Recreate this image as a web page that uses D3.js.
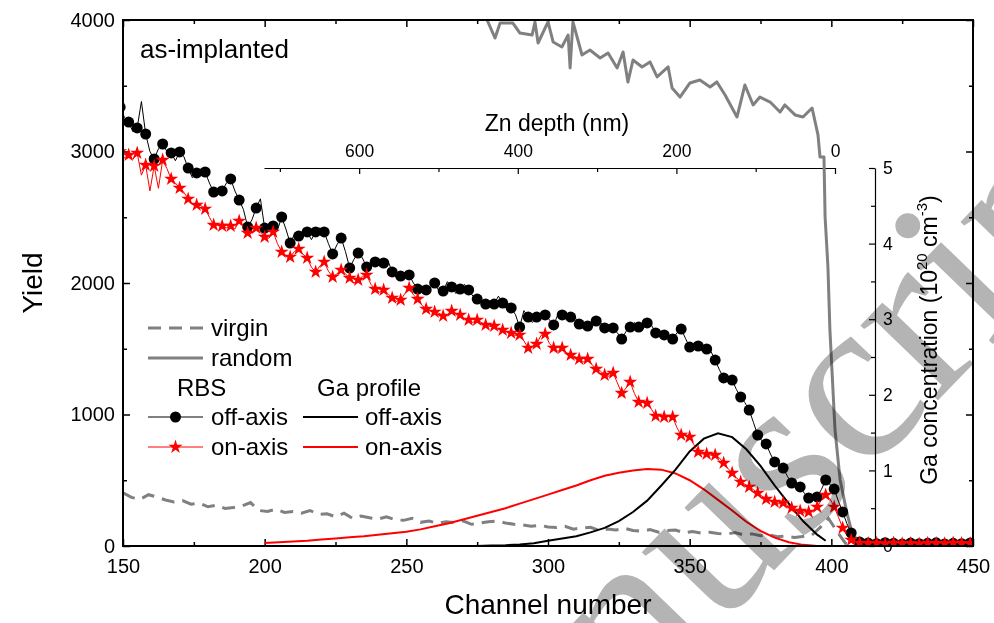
<!DOCTYPE html>
<html>
<head>
<meta charset="utf-8">
<script src="https://cdn.jsdelivr.net/npm/d3@7"></script>
<style>
  body { margin: 0; background: #fff; }
  text { font-family: "Liberation Sans", Arial, sans-serif; fill: #000; }
</style>
</head>
<body>
<svg id="chart" width="994" height="623"></svg>
<script>
// ---- data ----
// RBS off-axis: markers every 3 channels from 149, mids sit 1.5 channels after each marker
const offStart = 149
const offMarkers = [3338,3224,3179,3133,2943,3057,2989,2997,2874,2837,2844,2692,2700,2791,2631,2426,2570,2418,2434,2502,
  2304,2357,2388,2388,2388,2221,2342,2114,2228,2122,2160,2152,2084,2053,2061,1954,1947,2000,1939,1970,
  1954,1947,1878,1840,1840,1848,1810,1665,1741,1741,1757,1681,1757,1741,1688,1673,1711,1658,1658,1574,
  1665,1665,1696,1620,1605,1574,1650,1513,1521,1498,1414,1278,1262,1133,1034,844,776,639,593,479,
  449,365,373,502,433,259,99,30,22,18,25,20,15,22,18,20,24,16,20,18,22]
const offMids = [3260,3150,3380,3000,3020,3000,2930,2960,2800,2870,2760,2680,2760,2700,2560,2480,2640,2450,2400,2410,
  2370,2400,2330,2420,2300,2290,2240,2180,2190,2160,2130,2170,2040,2080,2000,1960,1980,1940,2010,1920,
  1990,1900,1870,1860,1900,1800,1760,1790,1700,1770,1720,1760,1720,1740,1650,1700,1700,1640,1620,1630,
  1700,1650,1680,1610,1600,1620,1580,1530,1480,1480,1340,1270,1190,1090,940,800,700,610,530,460,
  400,380,430,470,340,170,60]

// RBS on-axis
const onStart = 149
const onMarkers = [3000,2973,2989,2897,2890,2935,2791,2722,2639,2593,2563,2441,2434,2434,2472,2380,2418,2350,2388,2236,
  2198,2259,2190,2084,2160,2046,2099,2038,2023,2061,1954,1947,1886,1871,1962,1878,1802,1780,1749,1787,
  1757,1719,1719,1681,1673,1643,1620,1605,1506,1536,1612,1506,1506,1452,1422,1422,1346,1300,1316,1163,
  1247,1095,1087,989,981,981,844,829,715,700,692,631,555,487,449,403,357,335,327,289,
  266,259,297,388,297,137,46,23,20,22,16,24,18,20,15,22,20,18,24,20,18]
const onMids = [2950,2940,2820,2700,2720,2870,2760,2690,2600,2590,2500,2440,2420,2410,2430,2380,2390,2340,2300,2210,
  2240,2220,2120,2130,2090,2070,2070,2000,2050,1990,1930,1920,1860,1920,1910,1830,1790,1770,1760,1770,
  1730,1700,1700,1670,1650,1630,1600,1560,1520,1600,1540,1480,1470,1440,1400,1380,1330,1290,1240,1200,
  1160,1090,1040,990,990,900,850,770,700,690,670,590,520,470,430,380,350,320,310,280,
  250,270,350,360,220,80,30]

// virgin: every 3 channels from 150
const virginStart = 150
const virginValues = [405,370,355,390,372,350,335,345,318,325,298,310,285,292,305,330,270,262,280,255,
  262,250,270,240,245,222,250,210,228,215,205,222,200,195,210,180,190,172,185,178,
  192,165,175,185,190,175,165,160,150,158,145,140,150,128,138,142,120,130,122,135,
  118,112,125,105,118,122,100,110,98,105,95,90,102,85,92,78,85,70,75,65,
  72,80,140,210,110,20,10,5]

// random
const randomCh = [275,278.5,281.3,283.1,287.6,290.1,294.4,295.4,296.5,300,301.8,304.9,307.1,307.8,308.8,312,314.8,318.4,321.2,324.4,
  326.5,328.2,330,333.2,336,338.5,342.4,343.8,346.6,350.1,353.6,357.2,359.6,362.5,366.7,369.5,372.4,374.8,378.4,381.9,
  383.6,387.2,390,393.2,394.9,395.3,396,397.4,397.8,398.8,399.5,401.3,403.1,405.5,407.3,409.1,412,420,435,450]
const randomValues = [4150,4000,3863,3977,3977,3901,3886,3985,3825,3985,3833,3795,3886,3635,3985,3734,3772,3711,3749,3635,
  3757,3528,3696,3643,3681,3567,3643,3483,3414,3521,3544,3490,3529,3430,3262,3506,3354,3414,3376,3300,
  3354,3278,3262,3331,3164,3125,2958,2958,2502,2122,1643,882,502,251,99,46,25,22,18,20]

// Ga profiles (10^20 cm^-3)
const gaOffCh = [275,280,285,290,295,300,305,310,315,320,325,330,335,340,345,350,355,360,365,370,375,380,385,390,395,398]
const gaOffValues = [0,0.005,0.01,0.02,0.035,0.07,0.1,0.13,0.18,0.24,0.33,0.45,0.6,0.8,1.01,1.25,1.42,1.49,1.44,1.28,1.06,0.8,0.56,0.33,0.15,0.07]
const gaOnCh = [200,205,210,215,220,225,230,235,240,245,250,255,260,265,270,275,280,285,290,295,300,305,310,315,320,
  325,330,335,340,345,350,355,360,365,370,375,380,385,390,395,398]
const gaOnValues = [0.04,0.05,0.06,0.07,0.085,0.1,0.115,0.13,0.15,0.17,0.19,0.22,0.26,0.3,0.35,0.4,0.45,0.5,0.56,0.62,0.68,0.74,0.8,0.87,0.93,
  0.97,1,1.02,1.01,0.96,0.87,0.75,0.61,0.47,0.32,0.2,0.11,0.05,0.015,0,0]

// ticks
const xMajor = [150,200,250,300,350,400,450]
const xMinor = [175,225,275,325,375,425]
const yMajor = [0,1000,2000,3000,4000]
const yMinor = [500,1500,2500,3500]
const depthMajor = [600,400,200,0]
const depthMinor = [700,500,300,100]
const gaMajor = [0,1,2,3,4,5]
const gaMinor = [0.5,1.5,2.5,3.5,4.5]

// ---- chart ----
const svg = d3.select("#chart")
const margin = { top: 20, left: 123, right: 21, bottom: 77 }
const innerWidth = 994 - margin.left - margin.right
const innerHeight = 623 - margin.top - margin.bottom

const g = svg.append("g").attr("transform", `translate(${margin.left},${margin.top})`)

const x = d3.scaleLinear().domain([150, 450]).range([0, innerWidth])
const y = d3.scaleLinear().domain([0, 4000]).range([innerHeight, 0])
const depth = d3.scaleLinear().domain([720, 0]).range([141, 712])
const depthY = 148
const ga = d3.scaleLinear().domain([0, 5]).range([innerHeight, depthY])
const gaX = 752
const intFmt = d3.format("d")

svg.append("clipPath").attr("id", "clip")
  .append("rect").attr("width", innerWidth).attr("height", innerHeight)

// build point lists
function seriesPoints(start, markers, mids) {
  const pts = []
  markers.forEach((v, i) => {
    pts.push([start + 3 * i, v])
    if (i < mids.length) pts.push([start + 3 * i + 1.5, mids[i]])
  })
  return pts
}
const offPts = seriesPoints(offStart, offMarkers, offMids)
const onPts = seriesPoints(onStart, onMarkers, onMids)
const offMarkPts = offMarkers.map((v, i) => [offStart + 3 * i, v])
const onMarkPts = onMarkers.map((v, i) => [onStart + 3 * i, v])
const virginPts = virginValues.map((v, i) => [virginStart + 3 * i, v])
const randomPts = randomCh.map((c, i) => [c, randomValues[i]])
const gaOffPts = gaOffCh.map((c, i) => [c, gaOffValues[i]])
const gaOnPts = gaOnCh.map((c, i) => [c, gaOnValues[i]])

const line = d3.line().x(d => x(d[0])).y(d => y(d[1]))
const gaLine = d3.line().x(d => x(d[0])).y(d => ga(d[1]))

// ---- axes ----
// each call of an axis rebinds the ticks, so major and minor ticks get their own groups
function addAxis(parent, transform, axis, fontSize, strokeW) {
  const a = parent.append("g").attr("transform", transform).call(axis)
  a.selectAll("line").attr("stroke-width", strokeW)
  a.selectAll("text").style("font-size", fontSize)
  a.attr("font-family", null)
  return a
}

const bottomT = `translate(0,${innerHeight})`
const rightT = `translate(${innerWidth},0)`
const axes = [
  addAxis(g, bottomT, d3.axisBottom(x).tickValues(xMajor).tickSize(-7).tickSizeOuter(0).tickPadding(13).tickFormat(intFmt), "20px", 1.5),
  addAxis(g, bottomT, d3.axisBottom(x).tickValues(xMinor).tickSize(-4).tickSizeOuter(0).tickFormat(""), "20px", 1.5),
  addAxis(g, null, d3.axisTop(x).tickValues(xMajor).tickSize(-7).tickSizeOuter(0).tickFormat(""), "20px", 1.5),
  addAxis(g, null, d3.axisTop(x).tickValues(xMinor).tickSize(-4).tickSizeOuter(0).tickFormat(""), "20px", 1.5),
  addAxis(g, null, d3.axisLeft(y).tickValues(yMajor).tickSize(-7).tickSizeOuter(0).tickPadding(8).tickFormat(intFmt), "20px", 1.5),
  addAxis(g, null, d3.axisLeft(y).tickValues(yMinor).tickSize(-4).tickSizeOuter(0).tickFormat(""), "20px", 1.5),
  addAxis(g, rightT, d3.axisRight(y).tickValues(yMajor).tickSize(-7).tickSizeOuter(0).tickFormat(""), "20px", 1.5),
  addAxis(g, rightT, d3.axisRight(y).tickValues(yMinor).tickSize(-4).tickSizeOuter(0).tickFormat(""), "20px", 1.5)
]
axes.forEach(a => a.select(".domain").remove())

// inset depth axis (labels above, ticks hanging down)
const depthT = `translate(0,${depthY})`
const depthG = addAxis(g, depthT, d3.axisTop(depth).tickValues(depthMajor).tickSize(-6).tickSizeOuter(0).tickPadding(11).tickFormat(intFmt), "17.5px", 1.2)
const depthMinorG = addAxis(g, depthT, d3.axisTop(depth).tickValues(depthMinor).tickSize(-4).tickSizeOuter(0).tickFormat(""), "17.5px", 1.2)
depthMinorG.select(".domain").remove()
depthG.select(".domain").attr("stroke-width", 1.2)

// Ga concentration axis (ticks to the left, labels right)
const gaT = `translate(${gaX},0)`
const gaG = addAxis(g, gaT, d3.axisRight(ga).tickValues(gaMajor).tickSize(-6).tickSizeOuter(0).tickPadding(8).tickFormat(intFmt), "17.5px", 1.2)
const gaMinorG = addAxis(g, gaT, d3.axisRight(ga).tickValues(gaMinor).tickSize(-4).tickSizeOuter(0).tickFormat(""), "17.5px", 1.2)
gaMinorG.select(".domain").remove()
gaG.select(".domain").attr("stroke-width", 1.2)

// ---- data ----
const dataG = g.append("g").attr("clip-path", "url(#clip)")

dataG.append("path").datum(virginPts).attr("d", line)
  .attr("fill", "none").attr("stroke", "#808080").attr("stroke-width", 3)
  .attr("stroke-dasharray", "13,8")

dataG.append("path").datum(randomPts).attr("d", line)
  .attr("fill", "none").attr("stroke", "#808080").attr("stroke-width", 3)
  .attr("stroke-linejoin", "round")

dataG.append("path").datum(gaOnPts).attr("d", gaLine)
  .attr("fill", "none").attr("stroke", "#ff0000").attr("stroke-width", 2)
dataG.append("path").datum(gaOffPts).attr("d", gaLine)
  .attr("fill", "none").attr("stroke", "#000").attr("stroke-width", 2)

dataG.append("path").datum(offPts).attr("d", line)
  .attr("fill", "none").attr("stroke", "#000").attr("stroke-width", 1)
dataG.append("path").datum(onPts).attr("d", line)
  .attr("fill", "none").attr("stroke", "#ff0000").attr("stroke-width", 1)

dataG.selectAll("circle.off").data(offMarkPts).enter().append("circle")
  .attr("class", "off")
  .attr("cx", d => x(d[0])).attr("cy", d => y(d[1])).attr("r", 5.5)
  .attr("fill", "#000")

const star = d3.symbol().type(d3.symbolStar).size(62)
dataG.selectAll("path.on").data(onMarkPts).enter().append("path")
  .attr("class", "on")
  .attr("transform", d => `translate(${x(d[0])},${y(d[1])})`)
  .attr("d", star).attr("fill", "#ff0000")

// frame
g.append("rect").attr("width", innerWidth).attr("height", innerHeight)
  .attr("fill", "none").attr("stroke", "#000").attr("stroke-width", 2)

// ---- labels ----
g.append("text").text("as-implanted").attr("x", 17).attr("y", 38).style("font-size", "26px")

g.append("text").text("Zn depth (nm)").attr("x", 434).attr("y", 111)
  .attr("text-anchor", "middle").style("font-size", "23px")

g.append("text").text("Channel number").attr("x", 425).attr("y", 594)
  .attr("text-anchor", "middle").style("font-size", "28px")

g.append("text").text("Yield").attr("transform", "translate(-81,263) rotate(-90)")
  .attr("text-anchor", "middle").style("font-size", "28px")

const gaTitle = g.append("text").attr("transform", "translate(814,320) rotate(-90)")
  .attr("text-anchor", "middle").style("font-size", "23px")
gaTitle.append("tspan").text("Ga concentration (10")
gaTitle.append("tspan").text("20").attr("dy", -10).style("font-size", "15px")
gaTitle.append("tspan").text(" cm").attr("dy", 10)
gaTitle.append("tspan").text("-3").attr("dy", -10).style("font-size", "15px")
gaTitle.append("tspan").text(")").attr("dy", 10)

// ---- legend ----
const lg = g.append("g")
const legFont = "24px"
const lx0 = 25, lx1 = 80, ltx = 88
const gx0 = 180, gx1 = 235, gtx = 242
const rows = { virgin: 308, random: 338, head: 368, off: 397, on: 427 }

lg.append("line").attr("x1", lx0).attr("x2", lx1).attr("y1", rows.virgin).attr("y2", rows.virgin)
  .attr("stroke", "#808080").attr("stroke-width", 3).attr("stroke-dasharray", "13,8")
lg.append("text").text("virgin").attr("x", ltx).attr("y", rows.virgin + 8).style("font-size", legFont)
lg.append("line").attr("x1", lx0).attr("x2", lx1).attr("y1", rows.random).attr("y2", rows.random)
  .attr("stroke", "#808080").attr("stroke-width", 3)
lg.append("text").text("random").attr("x", ltx).attr("y", rows.random + 8).style("font-size", legFont)

lg.append("text").text("RBS").attr("x", 54).attr("y", rows.head + 8).style("font-size", legFont)
lg.append("text").text("Ga profile").attr("x", 194).attr("y", rows.head + 8).style("font-size", legFont)

lg.append("line").attr("x1", lx0).attr("x2", lx1).attr("y1", rows.off).attr("y2", rows.off)
  .attr("stroke", "#000").attr("stroke-width", 1)
lg.append("circle").attr("cx", (lx0 + lx1) / 2).attr("cy", rows.off).attr("r", 5.5).attr("fill", "#000")
lg.append("text").text("off-axis").attr("x", ltx).attr("y", rows.off + 8).style("font-size", legFont)

lg.append("line").attr("x1", lx0).attr("x2", lx1).attr("y1", rows.on).attr("y2", rows.on)
  .attr("stroke", "#ff0000").attr("stroke-width", 1)
lg.append("path").attr("transform", `translate(${(lx0 + lx1) / 2},${rows.on})`).attr("d", star).attr("fill", "#ff0000")
lg.append("text").text("on-axis").attr("x", ltx).attr("y", rows.on + 8).style("font-size", legFont)

lg.append("line").attr("x1", gx0).attr("x2", gx1).attr("y1", rows.off).attr("y2", rows.off)
  .attr("stroke", "#000").attr("stroke-width", 2)
lg.append("text").text("off-axis").attr("x", gtx).attr("y", rows.off + 8).style("font-size", legFont)
lg.append("line").attr("x1", gx0).attr("x2", gx1).attr("y1", rows.on).attr("y2", rows.on)
  .attr("stroke", "#ff0000").attr("stroke-width", 2)
lg.append("text").text("on-axis").attr("x", gtx).attr("y", rows.on + 8).style("font-size", legFont)

// ---- watermark ----
svg.append("text").text("Manuscript")
  .attr("transform", "translate(418,939) rotate(-46)")
  .style("font-family", "'Liberation Serif', 'Times New Roman', serif")
  .style("font-size", "235px")
  .style("fill", "#b4b4b4")
  .style("mix-blend-mode", "multiply")
</script>
</body>
</html>
